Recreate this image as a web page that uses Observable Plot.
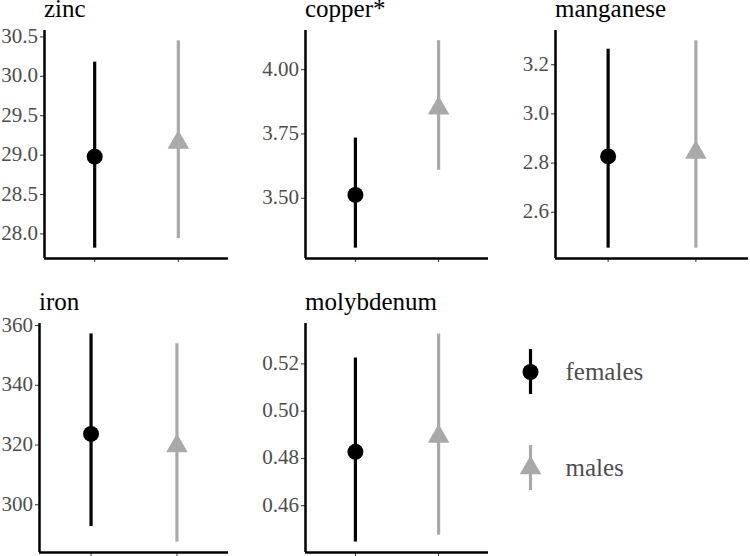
<!DOCTYPE html>
<html>
<head>
<meta charset="utf-8">
<script src="https://cdn.jsdelivr.net/npm/d3@7"></script>
<script src="https://cdn.jsdelivr.net/npm/@observablehq/plot@0.6"></script>
<style>
  html, body { margin: 0; padding: 0; background: white; }
  #chart { position: relative; width: 750px; height: 556px; overflow: hidden; background: white;
           font-family: "Liberation Serif", "Times New Roman", serif; }
  #chart > div { position: absolute; }
  .lbl { position: absolute; white-space: nowrap; font-family: "Liberation Serif", "Times New Roman", serif; }
  .tick { font-size: 21px; line-height: 21px; color: #4d4d4d; text-align: right; }
  .title { font-size: 25px; line-height: 25px; color: #000; }
</style>
</head>
<body>
<div id="chart"></div>
<script>
// ---- data ----
const minerals = ["zinc", "copper*", "manganese", "iron", "molybdenum"];
const sexes = ["females", "males"];
const sexPos = [1, 2];
const femaleMean = [28.98, 3.513, 2.827, 323.7, 0.4828];
const femaleLow  = [27.82, 3.306, 2.454, 292.7, 0.4446];
const femaleHigh = [30.18, 3.734, 3.263, 357.2, 0.5225];
const maleMean   = [29.16, 3.850, 2.843, 319.7, 0.4893];
const maleLow    = [27.94, 3.609, 2.454, 287.5, 0.4475];
const maleHigh   = [30.45, 4.112, 3.297, 353.9, 0.5327];
const tickValues = [
  [28.0, 28.5, 29.0, 29.5, 30.0, 30.5],
  [3.50, 3.75, 4.00],
  [2.6, 2.8, 3.0, 3.2],
  [300, 320, 340, 360],
  [0.46, 0.48, 0.50, 0.52]
];
const tickDecimals = [1, 2, 1, 0, 2];

// ---- layout (panel frames in page pixels) ----
const frames = [
  {x0: 44,  x1: 228, y0: 30,  y1: 258},
  {x0: 305, x1: 488, y0: 30,  y1: 258},
  {x0: 555, x1: 748, y0: 30,  y1: 258},
  {x0: 39,  x1: 228, y0: 323, y1: 552},
  {x0: 305, x1: 488, y0: 323, y1: 552}
];
const colors = {females: "#000000", males: "#a9a9a9"};
const symbols = {females: "circle", males: "triangle"};
const FONT = "Liberation Serif";
const xDomain = [0.4, 2.6];

const chart = document.getElementById("chart");

minerals.forEach((name, i) => {
  const rows = [
    {sex: "females", pos: sexPos[0], mean: femaleMean[i], low: femaleLow[i], high: femaleHigh[i]},
    {sex: "males",   pos: sexPos[1], mean: maleMean[i],   low: maleLow[i],   high: maleHigh[i]}
  ];
  const lo = d3.min(rows, d => d.low), hi = d3.max(rows, d => d.high);
  const pad = (hi - lo) * 0.05;
  const yDomain = [lo - pad, hi + pad];
  const f = frames[i];
  const col = i < 3 ? i : i - 3;
  const left = col * 250;
  const top = i < 3 ? 0 : 290;
  const ml = f.x0 - left, mt = f.y0 - top;
  const mr = 2, mb = 8;
  const width = f.x1 - f.x0 + ml + mr;
  const height = f.y1 - f.y0 + mt + mb;
  const fmt = d3.format(`.${tickDecimals[i]}f`);

  const plot = Plot.plot({
    width, height,
    marginLeft: ml, marginTop: mt, marginRight: mr, marginBottom: mb,
    style: {fontFamily: FONT, fontSize: "21px", color: "#333333", background: "white", overflow: "visible"},
    x: {domain: xDomain, ticks: sexPos, tickFormat: () => "", tickSize: 4, label: null},
    y: {domain: yDomain, ticks: tickValues[i], tickFormat: () => "", tickSize: 4, label: null},
    marks: [
      Plot.ruleX(rows, {x: "pos", y1: "low", y2: "high", stroke: d => colors[d.sex], strokeWidth: 3.2}),
      Plot.dot(rows, {x: "pos", y: "mean", fill: d => colors[d.sex], symbol: d => symbols[d.sex], r: 8, stroke: null}),
      Plot.ruleX([xDomain[0]], {stroke: "black", strokeWidth: 2.5}),
      Plot.ruleY([yDomain[0]], {stroke: "black", strokeWidth: 2.5})
    ]
  });
  const holder = document.createElement("div");
  holder.style.left = left + "px";
  holder.style.top = top + "px";
  holder.style.width = width + "px";
  holder.style.height = height + "px";
  holder.appendChild(plot);

  // tick labels, placed with the plot's own y scale
  const yScale = plot.scale("y");
  tickValues[i].forEach(v => {
    const d = document.createElement("div");
    d.className = "lbl tick";
    d.textContent = fmt(v);
    d.style.left = "-10px";
    d.style.width = (ml - 6 + 10) + "px";
    d.style.top = (yScale.apply(v) - 10.5) + "px";
    holder.appendChild(d);
  });
  // panel title
  const t = document.createElement("div");
  t.className = "lbl title";
  t.textContent = name;
  t.style.left = ml + "px";
  t.style.top = (mt - 13 - 21) + "px";
  holder.appendChild(t);

  chart.appendChild(holder);
});

// ---- legend ----
const legendRows = sexes.map(s => ({sex: s}));
const legend = Plot.plot({
  width: 230, height: 170,
  marginLeft: 0, marginRight: 0, marginTop: 19, marginBottom: 9,
  style: {fontFamily: FONT, background: "white", overflow: "visible"},
  x: {domain: [0, 1], range: [30, 31], axis: null},
  y: {type: "band", domain: sexes, paddingInner: 0.53, paddingOuter: 0, axis: null},
  marks: [
    Plot.tickX(legendRows, {x: () => 0, y: "sex", stroke: d => colors[d.sex], strokeWidth: 3.2}),
    Plot.dot(legendRows, {x: () => 0, y: "sex", fill: d => colors[d.sex], symbol: d => symbols[d.sex], r: 8, stroke: null}),
    Plot.text(legendRows, {x: () => 0, y: "sex", text: "sex", dx: 35, textAnchor: "start", fontSize: 25, fill: "#4d4d4d"})
  ]
});
const lh = document.createElement("div");
lh.style.left = "500px";
lh.style.top = "330px";
lh.appendChild(legend);
chart.appendChild(lh);
</script>
</body>
</html>
